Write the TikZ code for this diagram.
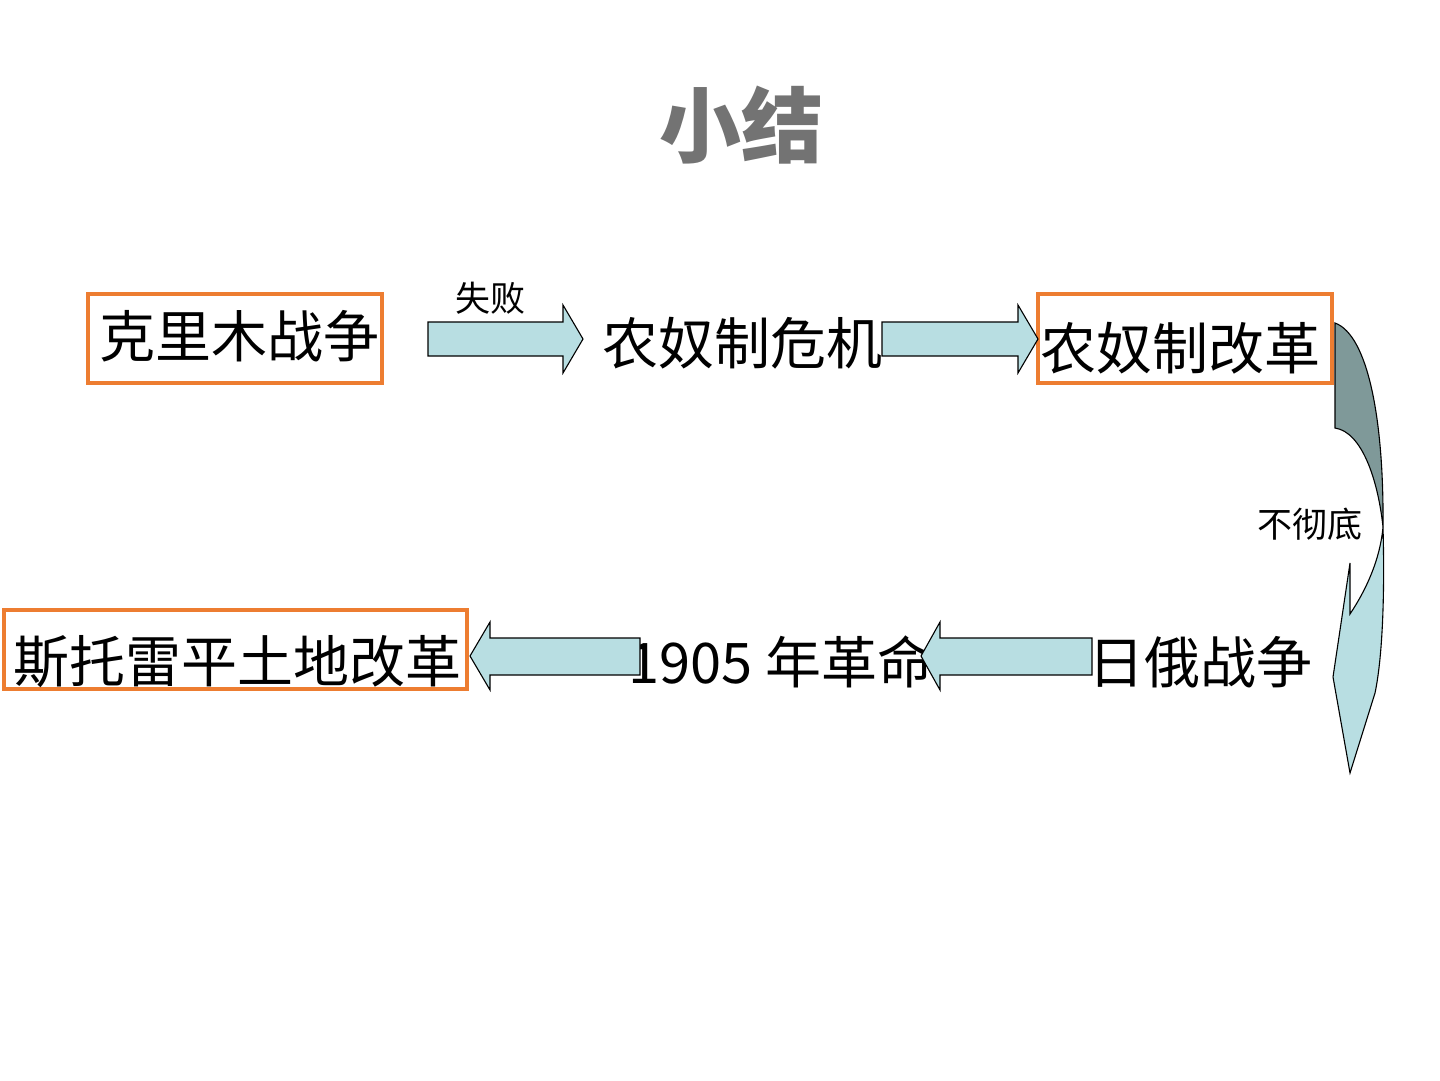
\documentclass[tikz,border=0pt]{standalone}
\usepackage{fontspec}
\newfontfamily\cjk{Noto Sans CJK SC}
\usepackage{xcolor}
\usepackage{tikz}
\usetikzlibrary{positioning}
\definecolor{boxorange}{RGB}{237,125,49}
\definecolor{arrowfill}{RGB}{184,222,226}
\definecolor{arrowdark}{RGB}{127,153,153}
\definecolor{titlegray}{RGB}{115,115,115}

\begin{document}
\begin{tikzpicture}[
    x=1pt, y=-1pt,
    stage/.style={inner sep=0pt, font=\cjk\fontsize{56}{60}\selectfont},
    note/.style={inner sep=0pt, font=\cjk\fontsize{35}{38}\selectfont},
    box/.style={rectangle, draw=boxorange, line width=4pt, inner sep=0pt},
    blockarrow/.style={draw=black, fill=arrowfill, line width=1.1pt, line join=miter}
]
\useasboundingbox (0,0) rectangle (1440,1080);

% Title
\node[inner sep=0pt, text=titlegray, font=\cjk\bfseries\fontsize{82}{86}\selectfont] (title) at (741,125) {小结};

% Frames
\node[box, minimum width=294pt, minimum height=89pt] (crimeabox) at (235,338.5) {};
\node[box, minimum width=294pt, minimum height=89pt] (reformbox) at (1185,338.5) {};
\node[box, minimum width=463pt, minimum height=79pt] (stolypinbox) at (235.5,649.5) {};

% Stages
\node[stage] (crimea) at (239,336) {克里木战争};
\node[stage] (crisis) at (742,343) {农奴制危机};
\node[stage] (reform) at (1180,348) {农奴制改革};
\node[stage] (japan) at (1200,662) {日俄战争};
\node[stage] (rev) at (781,662) {1905 年革命};
\node[stage] (stolypin) at (237,662) {斯托雷平土地改革};

% Block arrows
\draw[blockarrow] (428,322) -- (563,322) -- (563,305) -- (583,339) -- (563,373) -- (563,356) -- (428,356) -- cycle;
\draw[blockarrow] (882,322) -- (1018,322) -- (1018,305) -- (1038,339) -- (1018,373) -- (1018,356) -- (882,356) -- cycle;
\draw[blockarrow] (1092,638) -- (940,638) -- (940,622) -- (921,656) -- (940,690) -- (940,675) -- (1092,675) -- cycle;
\draw[blockarrow] (640,638) -- (490,638) -- (490,622) -- (470,656) -- (490,690) -- (490,675) -- (640,675) -- cycle;

% Curved arrow down the right side
\draw[blockarrow, fill=arrowdark] (1335,323) .. controls (1368,335) and (1384,420) .. (1383,527)
    .. controls (1378,480) and (1362,432) .. (1335,428) -- cycle;
\draw[blockarrow] (1383,527) .. controls (1385,600) and (1382,660) .. (1375,693) -- (1350,773)
    -- (1333,677) -- (1350,563) -- (1350,614) .. controls (1366,590) and (1380,560) .. (1383,527) -- cycle;

% Labels on arrows
\node[note] (fail) at (490,298) {失败};
\node[note] (partial) at (1310,524) {不彻底};

\end{tikzpicture}
\end{document}
